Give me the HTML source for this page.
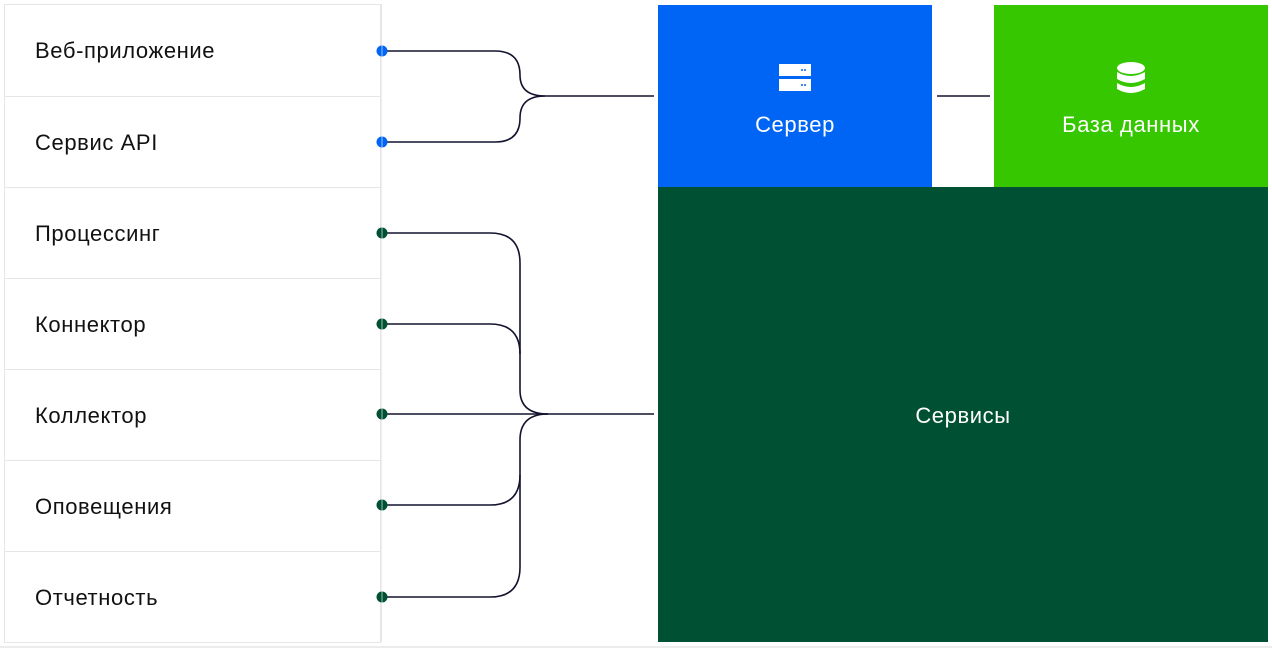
<!DOCTYPE html>
<html><head><meta charset="utf-8"><style>
html,body{margin:0;padding:0;background:#fff;width:1272px;height:649px;overflow:hidden}
body{position:relative;font-family:"Liberation Sans",sans-serif}
.row{position:absolute;left:4px;width:377px;height:90px;border:1px solid #e6e6e6;border-top:none;box-sizing:border-box;font-size:22px;letter-spacing:0.6px;color:#111;line-height:90px;padding-left:30px}
.box{position:absolute;color:#fff;font-size:22px;letter-spacing:0.6px;text-align:center}
</style></head><body>
<div style="position:absolute;left:4px;top:4px;width:378px;height:1px;background:#e6e6e6"></div>
<div style="position:absolute;left:0;top:646px;width:1272px;height:2px;background:#ececec"></div>
<div style="position:absolute;left:4px;top:5px;width:1px;height:637px;background:#e6e6e6"></div>
<div style="position:absolute;left:381px;top:5px;width:1px;height:637px;background:#e6e6e6"></div>
<div class="row" style="top:5px;height:92px;line-height:92px">Веб-приложение</div>
<div class="row" style="top:97px;height:91px;line-height:91px">Сервис API</div>
<div class="row" style="top:188px;height:91px;line-height:91px">Процессинг</div>
<div class="row" style="top:279px;height:91px;line-height:91px">Коннектор</div>
<div class="row" style="top:370px;height:91px;line-height:91px">Коллектор</div>
<div class="row" style="top:461px;height:91px;line-height:91px">Оповещения</div>
<div class="row" style="top:552px;height:91px;line-height:91px">Отчетность</div>

<div class="box" style="left:658px;top:5px;width:274px;height:182px;background:#0064f5">
<svg width="32" height="28" style="position:absolute;left:121px;top:59px"><rect x="0" y="0" width="32" height="12" fill="#fff"/><rect x="0" y="15" width="32" height="12" fill="#fff"/><circle cx="23" cy="6" r="1" fill="#0064f5"/><circle cx="26" cy="6" r="1" fill="#0064f5"/><circle cx="23" cy="21" r="1" fill="#0064f5"/><circle cx="26" cy="21" r="1" fill="#0064f5"/></svg>
<div style="position:absolute;left:0;right:0;top:107px">Сервер</div></div>
<div class="box" style="left:994px;top:5px;width:274px;height:182px;background:#36c700">
<svg width="30" height="32" style="position:absolute;left:122px;top:57px"><ellipse cx="15" cy="6" rx="14" ry="6" fill="#fff"/><path d="M1 10 Q15 18 29 10 V17 Q15 25 1 17Z" fill="#fff"/><path d="M1 21 Q15 29 29 21 V27 Q15 35 1 27Z" fill="#fff"/></svg>
<div style="position:absolute;left:0;right:0;top:107px">База данных</div></div>
<div class="box" style="left:658px;top:187px;width:610px;height:455px;background:#005133">
<div style="position:absolute;left:0;right:0;top:216px">Сервисы</div></div>

<svg width="1272" height="649" style="position:absolute;left:0;top:0" fill="none" stroke="#14132e" stroke-width="1.6">
<path d="M383 51 H495 Q520 51 520 75 Q520 96 545 96 H654"/>
<path d="M383 142 H495 Q520 142 520 118 Q520 96 545 96"/>
<line x1="937" y1="96" x2="990" y2="96"/>
<path d="M383 233 H490 Q520 233 520 263 V390 Q520 414 548 414 H654"/>
<path d="M383 324 H490 Q520 324 520 354"/>
<path d="M383 414 H548"/>
<path d="M383 505 H490 Q520 505 520 475"/>
<path d="M383 597 H490 Q520 597 520 567 V440 Q520 414 548 414"/>
<g stroke="none">
<circle cx="382" cy="51" r="5.5" fill="#0064f5"/><circle cx="382" cy="142" r="5.5" fill="#0064f5"/>
<circle cx="382" cy="233" r="5.5" fill="#005133"/><circle cx="382" cy="324" r="5.5" fill="#005133"/><circle cx="382" cy="414" r="5.5" fill="#005133"/><circle cx="382" cy="505" r="5.5" fill="#005133"/><circle cx="382" cy="597" r="5.5" fill="#005133"/>
<rect x="381.5" y="45" width="1" height="560" fill="#fff" opacity="0.6"/>
</g>
</svg>
</body></html>
